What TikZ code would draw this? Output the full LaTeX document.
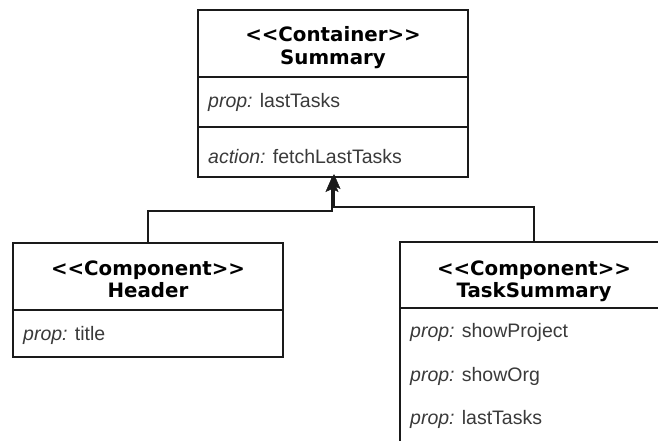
\documentclass[tikz,border=0pt]{standalone}
\usepackage{fontspec}
\setmainfont{Liberation Sans}
\newfontfamily\headfont{DejaVu Sans}
\usetikzlibrary{arrows.meta}
\definecolor{linec}{HTML}{1A1A1A}
\definecolor{fieldc}{HTML}{3A3A3A}
\newcommand\stereo[1]{<\kern0pt<#1>\kern0pt>}
\begin{document}
\begin{tikzpicture}[x=1pt,y=-1pt,
  box/.style={draw=linec, line width=1.5pt, fill=white, anchor=north west,
    inner sep=0pt, outer sep=0pt},
  sep/.style={draw=linec, line width=1.5pt},
  title/.style={font=\headfont\bfseries\fontsize{19.8}{23}\selectfont,
    text=black, anchor=base, inner sep=0pt},
  field/.style={font=\fontsize{19.5}{23}\selectfont, text=fieldc,
    anchor=base west, inner sep=0pt},
  conn/.style={draw=linec, line width=1.5pt,
    -{Stealth[length=15pt,width=13pt,inset=3pt,line width=0.5pt]}}]
\clip (0,0) rectangle (658,440);
\fill[white] (0,0) rectangle (658,440);

% container class
\node[box, minimum width=270pt, minimum height=167pt] (summary) at (198,10) {};
\draw[sep] (198,77) -- (468,77);
\draw[sep] (198,127) -- (468,127);
\node[title] (summaryS) at (333,41.5) {\stereo{Container}};
\node[title] (summaryN) at (333,64) {Summary};
\node[field] (summaryP) at (208,107) {\textit{prop:} lastTasks};
\node[field] (summaryA) at (208,163) {\textit{action:} fetchLastTasks};

% header component
\node[box, minimum width=270pt, minimum height=114pt] (header) at (13,243) {};
\draw[sep] (13,310) -- (283,310);
\node[title] (headerS) at (148,275) {\stereo{Component}};
\node[title] (headerN) at (148,297) {Header};
\node[field] (headerP) at (23,340) {\textit{prop:} title};

% task summary component
\node[box, minimum width=268pt, minimum height=230pt] (tasks) at (400,242) {};
\draw[sep] (400,308) -- (668,308);
\node[title] (tasksS) at (534,275) {\stereo{Component}};
\node[title] (tasksN) at (534,297) {TaskSummary};
\node[field] (tasksP1) at (410,337) {\textit{prop:} showProject};
\node[field] (tasksP2) at (410,381) {\textit{prop:} showOrg};
\node[field] (tasksP3) at (410,424) {\textit{prop:} lastTasks};

% dependencies
\draw[conn] (header.north) -- ++(0,-32) -| ([xshift=-1pt]summary.south);
\draw[conn] (tasks.north) -- ++(0,-35) -| ([xshift=1pt,yshift=3pt]summary.south);
\end{tikzpicture}
\end{document}
